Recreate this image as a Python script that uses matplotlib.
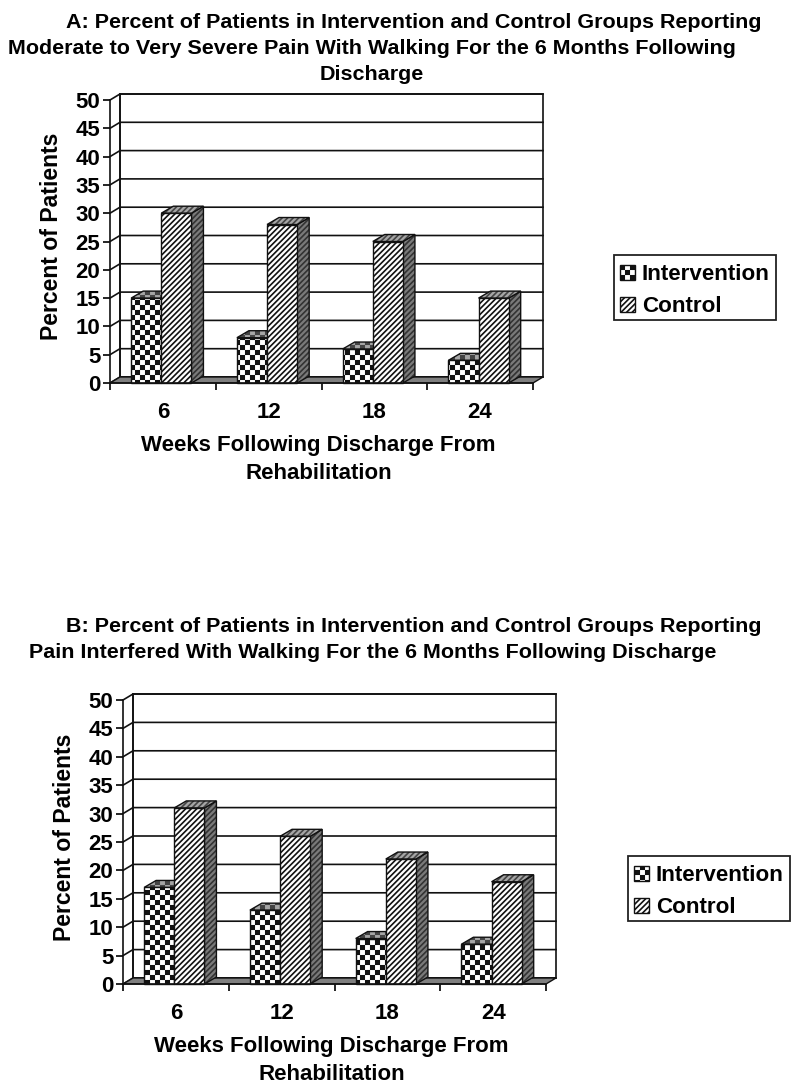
import matplotlib
matplotlib.use('Agg')
import matplotlib.pyplot as plt
from matplotlib.hatch import HatchPatternBase, _hatch_types
from matplotlib.path import Path
from matplotlib.patches import Patch, Rectangle

plt.rcParams['font.family'] = ['Liberation Sans', 'DejaVu Sans']
plt.rcParams['font.weight'] = 'bold'
plt.rcParams['hatch.linewidth'] = 1.2

weeks = ['6', '12', '18', '24']
intervention_a = [15, 8, 6, 4]
control_a = [30, 28, 25, 15]
intervention_b = [17, 13, 8, 7]
control_b = [31, 26, 22, 18]
y_ticks = list(range(0, 55, 5))

W, H = 800, 1091


# matplotlib has no checkerboard hatch, so add one ('c')
class CheckerHatch(HatchPatternBase):
    def __init__(self, hatch, density):
        self.n = 20 if 'c' in hatch else 0
        self.num_vertices = 0
        if self.n:
            self.squares = [(i, j) for i in range(self.n) for j in range(self.n) if (i + j) % 2 == 0]
            self.num_vertices = len(self.squares) * 5

    def set_vertices_and_codes(self, vertices, codes):
        s = 1.0 / self.n
        m = 0.008  # the hatch stroke fattens the squares, take it back
        k = 0
        for i, j in self.squares:
            x, y = i * s + m, j * s + m
            t = s - 2 * m
            vertices[k:k + 5] = [(x, y), (x + t, y), (x + t, y + t), (x, y + t), (x, y)]
            codes[k:k + 5] = [Path.MOVETO, Path.LINETO, Path.LINETO, Path.LINETO, Path.CLOSEPOLY]
            k += 5


_hatch_types.append(CheckerHatch)


def draw_panel(fig, left, right, y0, y50, interv, ctrl, title_lines, legend_box):
    ax = fig.add_axes([left / W, 1 - y0 / H, (right - left) / W, (y0 - y50) / H])
    ax.set_xlim(0, 4)
    ax.set_ylim(0, 50)
    ax.patch.set_visible(False)
    dx = 10 / (right - left) * 4
    dy = 6 / (y0 - y50) * 50
    bdx = 12 / (right - left) * 4
    bdy = 7 / (y0 - y50) * 50

    # back wall, left wall, floor
    ax.fill([dx, 4 + dx, 4 + dx, dx], [dy, dy, 50 + dy, 50 + dy], fc='white', ec='#111111', lw=1.2, clip_on=False, zorder=1)
    for t in y_ticks:
        ax.plot([0, dx, 4 + dx], [t, t + dy, t + dy], color='#111111', lw=1.2, clip_on=False, zorder=1.5)
    ax.plot([dx, dx], [dy, 50 + dy], color='#111111', lw=1.2, clip_on=False, zorder=1.5)
    ax.fill([0, 4, 4 + dx, dx], [0, 0, dy, dy], fc='#7f7f7f', ec='#111111', lw=1, clip_on=False, zorder=2)

    bw = 0.285
    for i in range(len(weeks)):
        for x0, v, hatch, z in [(i + 0.2, interv[i], 'c', 3), (i + 0.485, ctrl[i], '//////', 4)]:
            x1 = x0 + bw
            ax.bar(x0, v, bw, align='edge', fc='white', ec='#111111', lw=1, hatch=hatch, zorder=z + 0.2, clip_on=False)
            side_x, side_y = [x1, x1 + bdx, x1 + bdx, x1], [0, bdy, v + bdy, v]
            top_x, top_y = [x0, x1, x1 + bdx, x0 + bdx], [v, v, v + bdy, v + bdy]
            ax.fill(side_x, side_y, fc='#7a7a7a', ec='#333333', lw=0, hatch=hatch, zorder=z, clip_on=False)
            ax.fill(side_x, side_y, fill=False, ec='#111111', lw=1, zorder=z, clip_on=False)
            ax.fill(top_x, top_y, fc='#a6a6a6', ec='#444444', lw=0, hatch=hatch, zorder=z + 0.1, clip_on=False)
            ax.fill(top_x, top_y, fill=False, ec='#111111', lw=1, zorder=z + 0.1, clip_on=False)

    for s in ['top', 'right']:
        ax.spines[s].set_visible(False)
    for s in ['left', 'bottom']:
        ax.spines[s].set_linewidth(1.2)
        ax.spines[s].set_color('#111111')
        ax.spines[s].set_zorder(5)
    ax.set_yticks(y_ticks)
    ax.set_xticks(range(5))
    ax.set_xticklabels([])
    ax.set_xticks([i + 0.5 for i in range(4)], minor=True)
    ax.set_xticklabels(weeks, minor=True)
    ax.tick_params(axis='x', which='minor', length=0, labelsize=16, pad=14)
    ax.tick_params(axis='x', which='major', length=5, width=1.2)
    ax.tick_params(axis='y', length=5, width=1.2, labelsize=16, pad=2)
    ax.set_xlabel('Weeks Following Discharge From\nRehabilitation', fontsize=16, fontweight='bold', labelpad=8.5, linespacing=1.4, x=0.493)
    ax.set_ylabel('Percent of Patients', fontsize=16.6, fontweight='bold', labelpad=9, y=0.517)

    for text, cx, cy in title_lines:
        fig.text(cx / W, 1 - (cy + 2) / H, text, ha='center', va='center', fontsize=15.45, fontweight='bold')

    handles = [Patch(fc='white', ec='#111111', hatch='c', label='Intervention'),
               Patch(fc='white', ec='#111111', hatch='//////', label='Control')]
    x, y, w, h = legend_box
    fig.add_artist(Rectangle((x / W, 1 - (y + h) / H), w / W, h / H, transform=fig.transFigure,
                             fc='white', ec='#222222', lw=1.3))
    fig.legend(handles=handles, loc='center', bbox_to_anchor=((x + w / 2) / W, 1 - (y + h / 2 + 3) / H),
               fontsize=16.1, frameon=False, handlelength=0.65, handleheight=0.65,
               handletextpad=0.3, labelspacing=0.5, borderpad=0, borderaxespad=0)


fig = plt.figure(figsize=(W / 100, H / 100), dpi=100)

draw_panel(fig, 110, 533, 383, 100, intervention_a, control_a,
           [('A: Percent of Patients in Intervention and Control Groups Reporting', 414, 21),
            ('Moderate to Very Severe Pain With Walking For the 6 Months Following', 372, 46),
            ('Discharge', 372, 72)],
           (614, 255, 162, 65))
draw_panel(fig, 123, 546, 984, 700, intervention_b, control_b,
           [('B: Percent of Patients in Intervention and Control Groups Reporting', 414, 624),
            ('Pain Interfered With Walking For the 6 Months Following Discharge', 373, 651)],
           (628, 856, 162, 65))

fig.savefig('out.png', dpi=100)
